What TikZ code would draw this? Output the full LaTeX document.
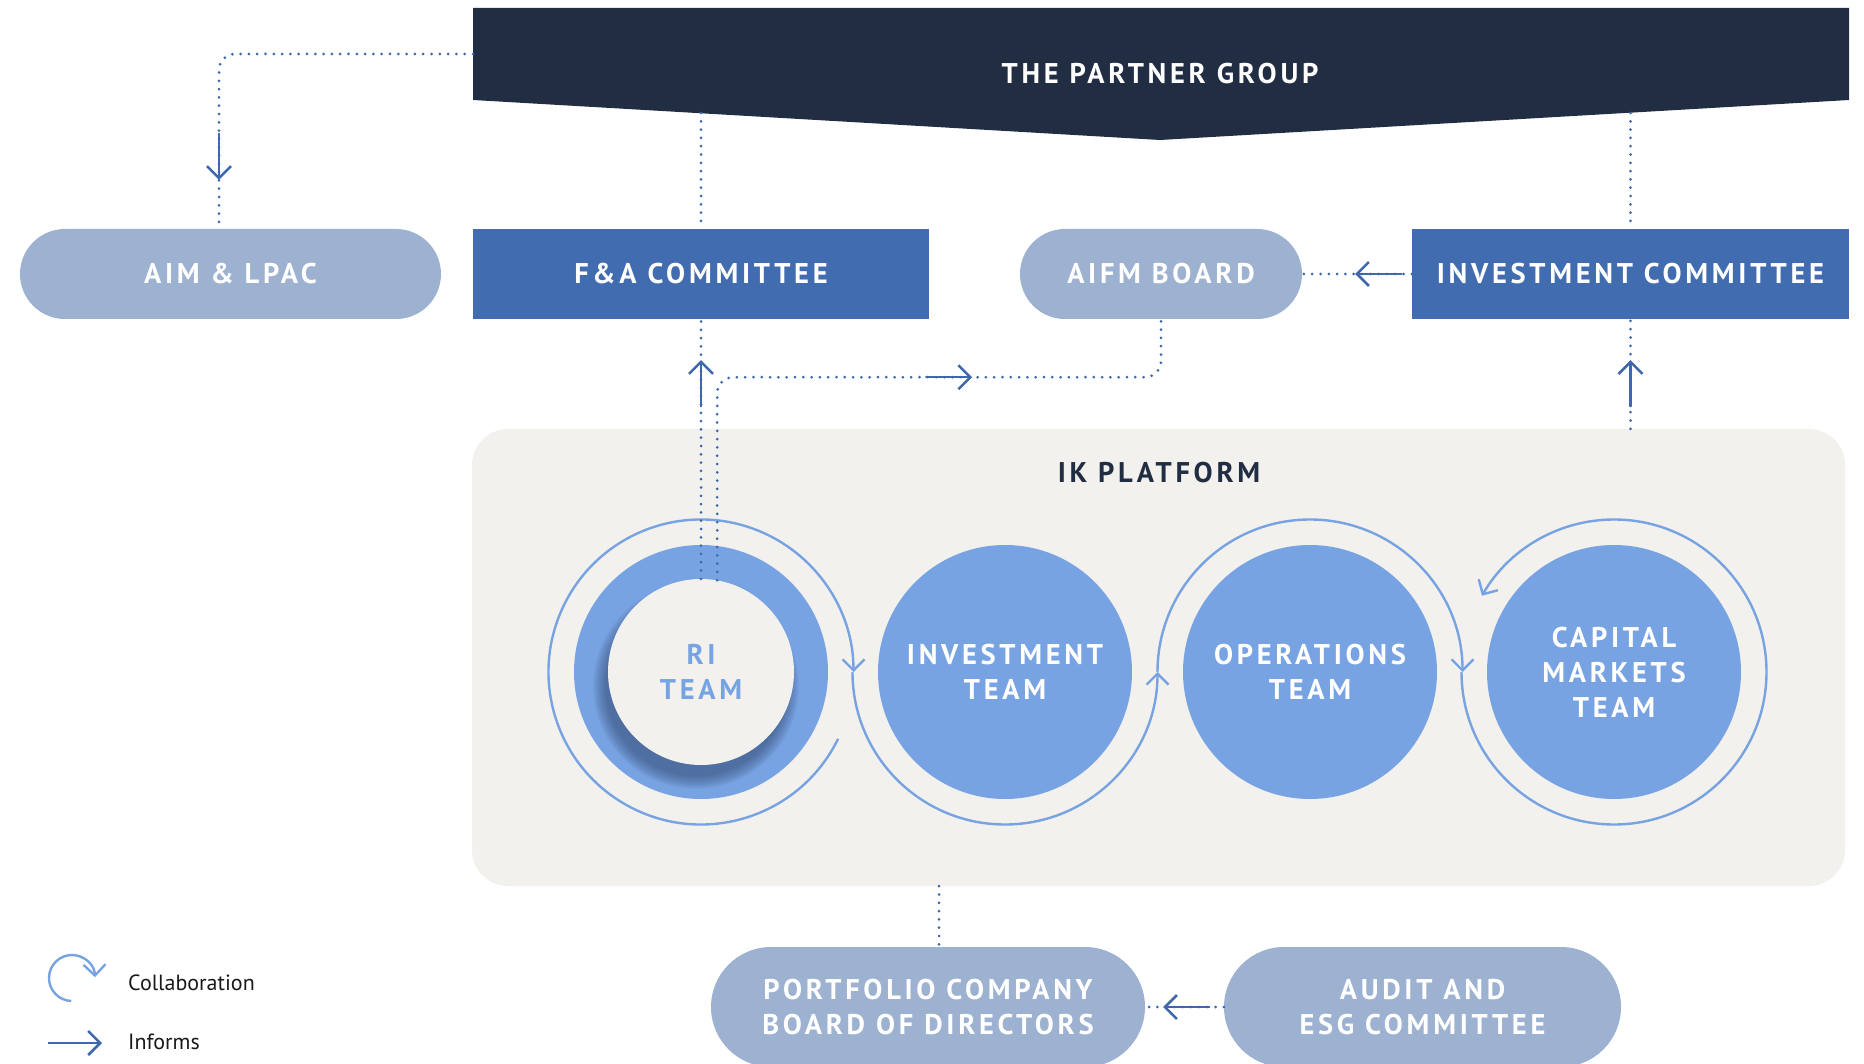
\documentclass[tikz,border=0pt]{standalone}
\usepackage{fontspec}
\setmainfont{PT Sans}
\newfontfamily\trackedfont[LetterSpace=13]{PT Sans}
\usetikzlibrary{positioning, calc, shapes.misc, arrows.meta, decorations.markings}

\begin{document}
\begin{tikzpicture}[
    x=1pt, y=1pt,
    label text/.style={font=\trackedfont\bfseries\fontsize{28.5}{35}\selectfont, text=white, align=center, inner sep=0pt},
    pill/.style={rounded rectangle, fill=pillblue, minimum height=90pt, label text},
    board/.style={rectangle, fill=boardblue, minimum height=90pt, label text},
    team/.style={circle, fill=teamblue, minimum size=254pt, label text},
    platform/.style={rectangle, rounded corners=36pt, fill=platformgray, minimum width=1373pt, minimum height=457pt},
    ring/.style={draw=teamblue, line width=2.4pt, -{Straight Barb[length=11pt, width=22pt]}},
    dotline/.style={draw=linkblue, line width=3pt, line cap=round, dash pattern=on 0pt off 8.3pt},
    informs/.style={postaction={decorate, decoration={markings, mark=at position #1 with {\draw[solid, line width=2.5pt, linkblue, -{Straight Barb[length=12pt, width=24pt]}] (-46pt,0) -- (0,0);}}}},
    legend text/.style={font=\fontsize{22}{26}\selectfont, text=legendgray, anchor=west, inner sep=0pt}
]

% Colours picked from the chart
\definecolor{navy}{RGB}{33,45,66}
\definecolor{boardblue}{RGB}{65,108,176}
\definecolor{pillblue}{RGB}{157,177,209}
\definecolor{teamblue}{RGB}{120,163,226}
\definecolor{platformgray}{RGB}{242,241,238}
\definecolor{linkblue}{RGB}{62,103,172}
\definecolor{shadowblue}{RGB}{45,62,100}
\definecolor{legendgray}{RGB}{25,25,25}

\useasboundingbox (0,0) rectangle (1864,-1064);

% --- Partner group banner ---
\fill[navy] (473,-8) -- (1849,-8) -- (1849,-100) -- (1160,-140) -- (473,-100) -- cycle;
\node[label text] (partner) at (1160,-74) {THE PARTNER GROUP};
\coordinate (pgwest) at (473,-54);
\coordinate (pgfa) at (701,-113);
\coordinate (pgic) at (1630.5,-113);

% --- Committees and boards ---
\node[pill, minimum width=421pt] (aim) at (230.5,-274) {AIM \& LPAC};
\node[board, minimum width=456pt] (fa) at (701,-274) {F\&A COMMITTEE};
\node[pill, minimum width=282pt] (aifm) at (1161,-274) {AIFM BOARD};
\node[board, minimum width=437pt] (ic) at (1630.5,-274) {INVESTMENT COMMITTEE};

% --- IK platform ---
\node[platform] (platform) at (1158.5,-657.5) {};
\node[label text, text=navy] (iklabel) at (1159,-473) {IK PLATFORM};

% RI team with inner disc and soft shadow
\node[team] (ri) at (701,-672) {};
\begin{scope}
    \clip (ri.center) circle[radius=127];
    \foreach \k in {0,...,10}
        \fill[shadowblue, opacity=0.06] ($(ri.center)+(-5,-14)$) circle[radius=90+1.3*\k];
\end{scope}
\node[circle, fill=platformgray, minimum size=186pt, label text, text=teamblue] (riin) at (ri.center) {RI\\TEAM};

\node[team] (inv) at (1005,-672) {INVESTMENT\\TEAM};
\node[team] (ops) at (1310,-672) {OPERATIONS\\TEAM};
\node[team] (cap) at (1614,-672) {CAPITAL\\MARKETS\\TEAM};

% Collaboration loop
\draw[ring] ($(ri.center)+(-26:152.5)$) arc[start angle=-26, end angle=-360, radius=152.5];
\draw[ring] ($(inv.center)+(180:152.5)$) arc[start angle=180, end angle=360, radius=152.5];
\draw[ring] ($(ops.center)+(180:152.5)$) arc[start angle=180, end angle=0, radius=152.5];
\draw[ring] ($(cap.center)+(180:152.5)$) arc[start angle=180, end angle=510, radius=152.5];

% --- Bottom boards ---
\node[pill, minimum width=434pt, minimum height=120pt] (pf) at (928,-1007) {PORTFOLIO COMPANY\\BOARD OF DIRECTORS};
\node[pill, minimum width=397pt, minimum height=120pt] (audit) at (1422.5,-1007) {AUDIT AND\\ESG COMMITTEE};
\coordinate (pftop) at ([xshift=11pt]pf.north);

% --- Reporting lines ---
\draw[dotline, rounded corners=16pt, informs=-49pt] (pgwest) -| ([xshift=-11.5pt]aim.north);
\draw[dotline] (pgfa) -- (fa.north);
\draw[dotline] (pgic) -- (ic.north);
\draw[dotline, informs=-41pt] (riin.north) -- (fa.south);
\draw[dotline, rounded corners=16pt, informs=-240pt] (riin.80) |- ([yshift=-58pt]aifm.south) -- (aifm.south);
\draw[dotline, informs=-53pt] (ic.west) -- (aifm.east);
\draw[dotline, informs=-41pt] (ic.south |- platform.north) -- (ic.south);
\draw[dotline] (pftop |- platform.south) -- (pftop);
\draw[dotline, informs=-18pt] (audit.west) -- (pf.east);

% --- Legend ---
\coordinate (collab) at (72,-978);
\draw[ring] ($(collab)+(-92:23)$) arc[start angle=-92, end angle=-358, radius=23];
\node[legend text] (collabtext) at (128,-983) {Collaboration};
\coordinate (informsA) at (48,-1043);
\coordinate (informsB) at (102,-1043);
\draw[line width=2.5pt, linkblue, -{Straight Barb[length=12pt, width=24pt]}] (informsA) -- (informsB);
\node[legend text] (informstext) at (128,-1042) {Informs};

\end{tikzpicture}
\end{document}
